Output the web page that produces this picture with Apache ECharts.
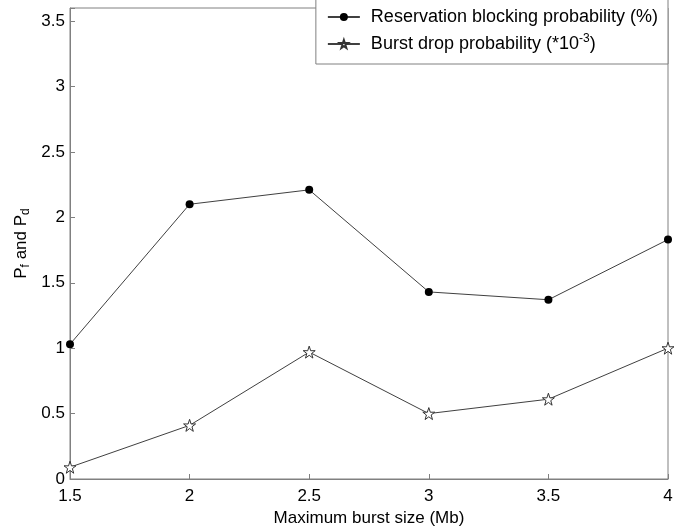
<!DOCTYPE html>
<html><head><meta charset="utf-8">
<script src="https://cdn.jsdelivr.net/npm/echarts@6/dist/echarts.min.js"></script>
<style>html,body{margin:0;padding:0;background:#fff}#c{width:695px;height:529px}</style>
</head><body><div id="c"></div>
<script>
const xValues = [1.5, 2, 2.5, 3, 3.5, 4];
const reservationBlocking = [1.03, 2.10, 2.21, 1.43, 1.37, 1.83];
const burstDrop = [0.09, 0.41, 0.97, 0.50, 0.61, 1.00];
const xTicks = [1.5, 2, 2.5, 3, 3.5, 4];
const yTicks = [0, 0.5, 1, 1.5, 2, 2.5, 3, 3.5];

const STAR = 'path://M50,0 L61.8,35.1 L97.6,34.5 L68.8,56 L79.4,90.5 L50,69.5 L20.6,90.5 L31.2,56 L2.4,34.5 L38.2,35.1 Z';
const font = 'Liberation Sans, Arial, sans-serif';
const chart = echarts.init(document.getElementById('c'));
const axisLine = {show: true, lineStyle: {color: '#808080', width: 1}};
chart.setOption({
  animation: false,
  backgroundColor: '#fff',
  grid: {left: 70, right: 27, top: 8, bottom: 50, show: true, borderColor: '#808080', borderWidth: 1,
         outerBoundsMode: 'none', containLabel: false},
  legend: {
    right: 27, top: -4,
    orient: 'vertical',
    backgroundColor: '#fff',
    borderColor: '#808080', borderWidth: 1, borderRadius: 0,
    padding: [12, 10, 11, 11],
    itemGap: 7,
    itemWidth: 32, itemHeight: 10,
    textStyle: {fontFamily: font, fontSize: 18, color: '#000', padding: [0, 0, 0, 6],
      rich: {sup: {fontFamily: font, fontSize: 12, color: '#000', verticalAlign: 'top', padding: [0,0,10,0]}}},
    formatter: function (n) {
      if (n.indexOf('Burst') === 0) return 'Burst drop probability (*10{sup|-3})';
      return n;
    },
    data: ['Reservation blocking probability (%)', 'Burst drop probability (*10-3)']
  },
  xAxis: {
    type: 'value', min: 1.5, max: 4, interval: 0.5,
    name: 'Maximum burst size (Mb)', nameLocation: 'middle', nameGap: 31,
    nameTextStyle: {fontFamily: font, fontSize: 17, color: '#000'},
    axisLine: axisLine,
    axisTick: {show: true, inside: true, length: 5, lineStyle: {color: '#808080'}},
    axisLabel: {fontFamily: font, fontSize: 17, color: '#000', margin: 9,
      formatter: v => (xTicks.indexOf(v) >= 0 ? String(v) : '')},
    splitLine: {show: false}
  },
  yAxis: {
    type: 'value', min: 0, max: 3.6, interval: 0.5,
    name: '{n|P}{s|f}{n| and P}{s|d}', nameLocation: 'middle', nameGap: 38, nameRotate: 90,
    nameMoveOverlap: false,
    nameTextStyle: {fontFamily: font, fontSize: 17, color: '#000',
      rich: {n: {fontFamily: font, fontSize: 17, color: '#000'},
             s: {fontFamily: font, fontSize: 12, color: '#000', verticalAlign: 'bottom', padding: [10,0,0,0]}}},
    axisLine: axisLine,
    axisTick: {show: true, inside: true, length: 5, lineStyle: {color: '#808080'}},
    axisLabel: {fontFamily: font, fontSize: 17, color: '#000', margin: 5,
      formatter: v => (yTicks.indexOf(v) >= 0 ? String(v) : '')},
    splitLine: {show: false}
  },
  series: [
    {
      name: 'Reservation blocking probability (%)', type: 'line',
      data: xValues.map((x, i) => [x, reservationBlocking[i]]),
      symbol: 'circle', symbolSize: 8,
      lineStyle: {color: '#404040', width: 1},
      itemStyle: {color: '#000'}
    },
    {
      name: 'Burst drop probability (*10-3)', type: 'line',
      data: xValues.map((x, i) => [x, burstDrop[i]]),
      symbol: STAR, symbolSize: 12,
      lineStyle: {color: '#404040', width: 1},
      itemStyle: {color: '#fff', borderColor: '#333', borderWidth: 1}
    }
  ]
});
</script></body></html>
